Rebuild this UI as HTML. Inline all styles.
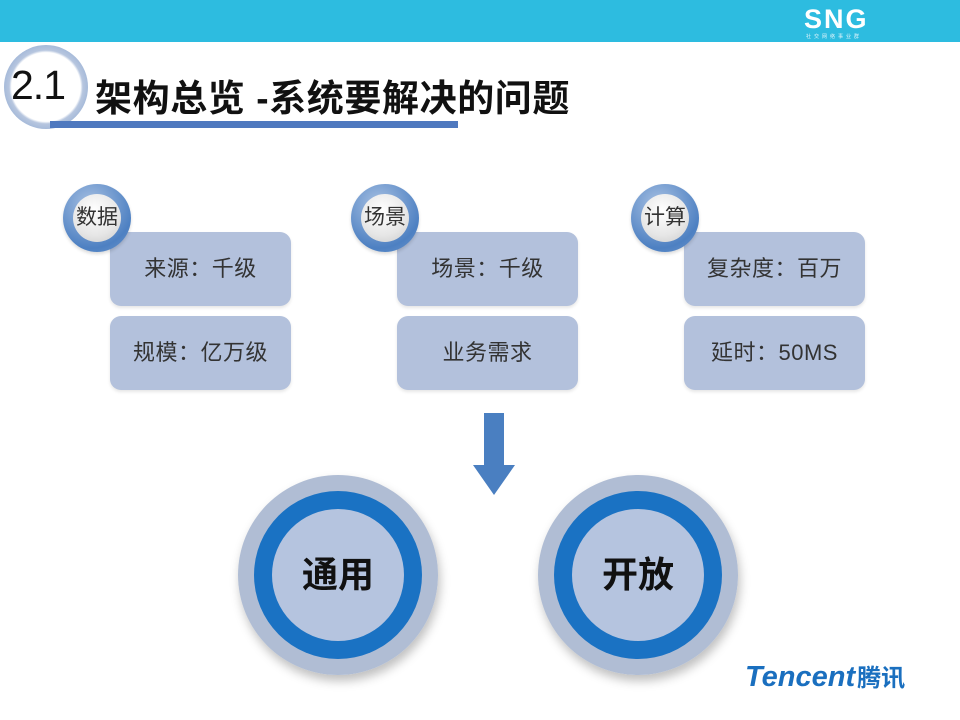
<!DOCTYPE html>
<html><head><meta charset="utf-8"><style>
*{margin:0;padding:0;box-sizing:border-box}
body{width:960px;height:720px;background:#fff;position:relative;overflow:hidden;font-family:"Liberation Sans","Noto Sans CJK SC",sans-serif}
.abs{position:absolute}
.box{position:absolute;width:181px;height:74px;background:#b3c1dc;border-radius:11px;color:#333;font-size:22px;letter-spacing:0.5px;line-height:74px;text-align:center;box-shadow:0 2px 3px rgba(0,0,0,.1)}
.sc{position:absolute;width:68px;height:68px;border-radius:50%;background:radial-gradient(circle at 40% 30%,#a7c0e2,#4d80c2 70%,#6f97cc);box-shadow:0 2px 3px rgba(0,0,0,.15)}
.sc div{position:absolute;left:10px;top:10px;width:48px;height:48px;border-radius:50%;background:radial-gradient(circle at 45% 35%,#fff,#e6e6e6 60%,#c9c9c9);font-size:21px;line-height:48px;text-align:center;color:#333;white-space:nowrap}
.bc{position:absolute;width:200px;height:200px;border-radius:50%;background:radial-gradient(circle,#b0bdd4 70%,#9aa8c2 100%);box-shadow:2px 6px 10px rgba(0,0,0,.25)}
.bc .r{position:absolute;left:16px;top:16px;width:168px;height:168px;border-radius:50%;background:#1a72c3}
.bc .i{position:absolute;left:34px;top:34px;width:132px;height:132px;border-radius:50%;background:#b5c4df;font-size:36px;font-weight:bold;line-height:132px;text-align:center;color:#111}
</style></head><body>
<div class="abs" style="left:0;top:0;width:960px;height:42px;background:#2dbce0"></div>
<div class="abs" style="left:804px;top:4px;font-size:27px;font-weight:bold;color:#fff;letter-spacing:2px;font-family:'Liberation Sans',sans-serif">SNG</div>
<div class="abs" style="left:806px;top:33px;font-size:5px;color:#e0f4fa;letter-spacing:3px">社交网络事业群</div>
<div class="abs" style="left:4px;top:45px;width:84px;height:84px;border-radius:50%;background:radial-gradient(circle,#fff 58%,#b7c6df 62%,#6f94c7 100%)"></div>
<div class="abs" style="left:11px;top:62px;font-size:41px;color:#111;letter-spacing:-1px">2.1</div>
<div class="abs" style="left:95px;top:68px;font-size:37px;font-weight:bold;color:#111;letter-spacing:0.6px;white-space:nowrap">架构总览 -系统要解决的问题</div>
<div class="abs" style="left:50px;top:121px;width:408px;height:7px;background:#4f79bf"></div>

<div class="box" style="left:110px;top:232px">来源：千级</div>
<div class="box" style="left:110px;top:316px">规模：亿万级</div>
<div class="sc" style="left:63px;top:184px"><div>数据</div></div>
<div class="box" style="left:397px;top:232px">场景：千级</div>
<div class="box" style="left:397px;top:316px">业务需求</div>
<div class="sc" style="left:351px;top:184px"><div>场景</div></div>
<div class="box" style="left:684px;top:232px">复杂度：百万</div>
<div class="box" style="left:684px;top:316px">延时：50MS</div>
<div class="sc" style="left:631px;top:184px"><div>计算</div></div>

<svg class="abs" style="left:470px;top:410px" width="50" height="90"><path d="M14 3H34V55H45L24 85L3 55H14Z" fill="#4a7fc1"/></svg>

<div class="bc" style="left:238px;top:475px"><div class="r"></div><div class="i">通用</div></div>
<div class="bc" style="left:538px;top:475px"><div class="r"></div><div class="i">开放</div></div>

<div class="abs" style="left:745px;top:658px;font-size:29px;font-weight:bold;font-style:italic;color:#1a6fbf;letter-spacing:0px">Tencent<span style="font-style:normal;font-size:24px;margin-left:2px">腾讯</span></div>
</body></html>
